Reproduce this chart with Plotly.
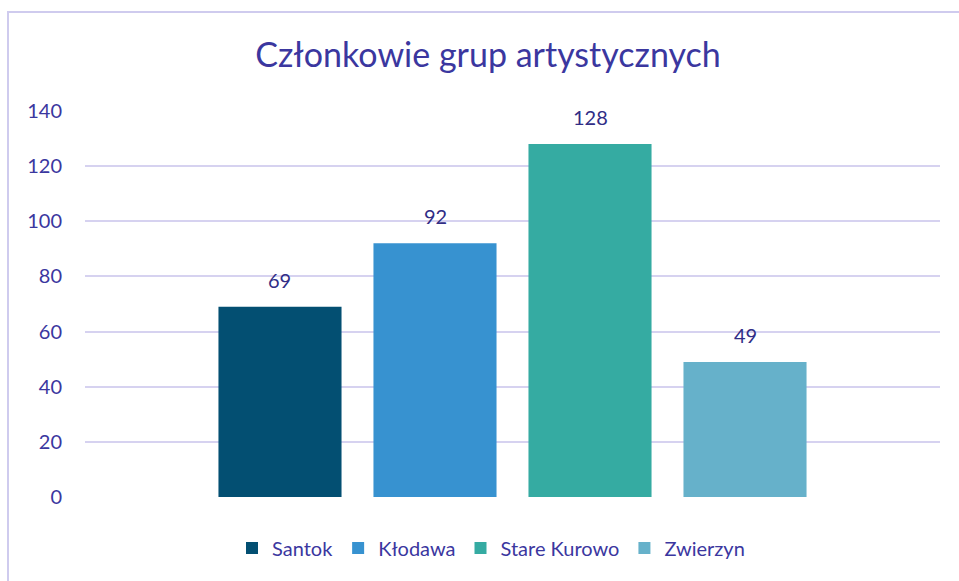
import plotly.graph_objects as go

# Members of art groups per municipality
gminy = ["Santok", "Kłodawa", "Stare Kurowo", "Zwierzyn"]
czlonkowie = [69, 92, 128, 49]
kolory = ["#034f72", "#3792d0", "#35aba2", "#66b1ca"]
y_ticks = [0, 20, 40, 60, 80, 100, 120, 140]

W, H = 959, 581
L, R, T, B = 85, 19, 111, 84
pw, ph = W - L - R, H - T - B

TXT = "#3b379f"
LBL = "#312d86"
FONT = "Lato"

fig = go.Figure()
for i, (g, v, c) in enumerate(zip(gminy, czlonkowie, kolory)):
    fig.add_trace(go.Bar(x=[i], y=[v], name=g, marker=dict(color=c, line=dict(width=0)),
                         hoverinfo="y"))
    fig.add_annotation(x=i, y=v, text=str(v), showarrow=False, yanchor="bottom",
                       yshift=13, font=dict(family=FONT, size=20, color=LBL))

# chart frame
fig.add_shape(type="rect", xref="paper", yref="paper",
              x0=(8 - L) / pw, x1=(W + 5 - L) / pw,
              y0=-(H + 5 - T - ph) / ph, y1=1 + (T - 12) / ph,
              line=dict(color="#cfcbee", width=2), fillcolor="rgba(0,0,0,0)", layer="below")

fig.update_layout(
    width=W, height=H,
    margin=dict(l=L, r=R, t=T, b=B),
    paper_bgcolor="white", plot_bgcolor="white",
    title=dict(text="Członkowie grup artystycznych", x=488 / W,
               xanchor="center", y=1 - 55 / H, yanchor="middle",
               font=dict(family=FONT, size=34, color=TXT)),
    bargap=0.206,
    showlegend=True,
    legend=dict(orientation="h", x=(491 - L) / pw, xanchor="center",
                y=-(548 - T - ph) / ph, yanchor="middle",
                font=dict(family=FONT, size=20, color=TXT), itemclick=False),
    xaxis=dict(range=[-1.258, 4.258], showticklabels=False, showgrid=False, zeroline=False,
               fixedrange=True),
    yaxis=dict(range=[0, 140], tickvals=y_ticks, showgrid=True, gridcolor="#d6d2f0", gridwidth=2,
               zeroline=False, ticks="", ticklabelstandoff=22,
               tickfont=dict(family=FONT, size=20, color=TXT), fixedrange=True),
)

fig.write_html("out.html")
